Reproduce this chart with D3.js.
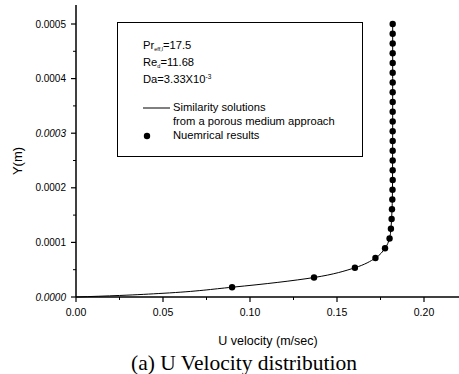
<!DOCTYPE html>
<html><head><meta charset="utf-8">
<script src="https://cdn.jsdelivr.net/npm/d3@7"></script>
<style>body{margin:0;background:#fff}svg{display:block}</style>
</head><body>
<svg id="c" width="459" height="374"></svg>
<script>
const yValues = [0.0000179,0.0000357,0.0000536,0.0000714,0.0000893,0.0001071,0.000125,0.0001429,0.0001607,0.0001786,0.0001964,0.0002143,0.0002321,0.00025,0.0002679,0.0002857,0.0003036,0.0003214,0.0003393,0.0003571,0.000375,0.0003929,0.0004107,0.0004286,0.0004464,0.0004643,0.0004821,0.0005];
const uNumerical = [0.0897,0.1368,0.1603,0.1721,0.1776,0.1802,0.1810,0.1814,0.1816,0.1818,0.1819,0.1820,0.1820,0.1820,0.1820,0.1820,0.1820,0.1820,0.1820,0.1820,0.1820,0.1820,0.1820,0.1820,0.1820,0.1820,0.1820,0.1820];
const curveY = [0,0.0000028,0.0000068,0.0000179,0.0000357,0.0000536,0.0000714,0.0000893,0.0001071,0.000125,0.0001429,0.0002,0.0003,0.0004,0.0005];
const curveU = [0,0.025,0.05,0.0897,0.1368,0.1603,0.1721,0.1776,0.1802,0.1810,0.1814,0.1819,0.1820,0.1820,0.1820];
const xTicks = [0,0.05,0.10,0.15,0.20];
const xTickLabels = ["0.00","0.05","0.10","0.15","0.20"];
const yTicks = [0,0.0001,0.0002,0.0003,0.0004,0.0005];
const yTickLabels = ["0.0000","0.0001","0.0002","0.0003","0.0004","0.0005"];

const svg = d3.select("#c");
const x = d3.scaleLinear().domain([0,0.22]).range([76,458.8]);
const y = d3.scaleLinear().domain([0,0.0005]).range([297,24]);
const font = "Liberation Sans, Arial, sans-serif";

// axes lines
svg.append("line").attr("x1",x(0)).attr("x2",459).attr("y1",y(0)).attr("y2",y(0)).attr("stroke","#000").attr("stroke-width",1.5);
svg.append("line").attr("x1",x(0)).attr("x2",x(0)).attr("y1",y(0)).attr("y2",5).attr("stroke","#000").attr("stroke-width",1.5);

// x ticks
const gx = svg.append("g");
gx.selectAll(".maj").data(xTicks).join("line").attr("x1",d=>x(d)).attr("x2",d=>x(d)).attr("y1",y(0)).attr("y2",y(0)+5).attr("stroke","#000").attr("stroke-width",1.2);
gx.selectAll(".min").data([0.025,0.075,0.125,0.175]).join("line").attr("class","min").attr("x1",d=>x(d)).attr("x2",d=>x(d)).attr("y1",y(0)).attr("y2",y(0)+3).attr("stroke","#000");
gx.selectAll("text").data(xTicks).join("text").attr("x",d=>x(d)).attr("y",y(0)+19).attr("text-anchor","middle").attr("font-family",font).attr("font-size",10.5).text((d,i)=>xTickLabels[i]);

// y ticks
const gy = svg.append("g");
gy.selectAll(".maj").data(yTicks).join("line").attr("x1",x(0)-5).attr("x2",x(0)).attr("y1",d=>y(d)).attr("y2",d=>y(d)).attr("stroke","#000").attr("stroke-width",1.2);
gy.selectAll(".min").data([0.00005,0.00015,0.00025,0.00035,0.00045]).join("line").attr("class","min").attr("x1",x(0)-3).attr("x2",x(0)).attr("y1",d=>y(d)).attr("y2",d=>y(d)).attr("stroke","#000");
gy.selectAll("text").data(yTicks).join("text").attr("x",x(0)-10).attr("y",d=>y(d)+3.5).attr("text-anchor","end").attr("font-family",font).attr("font-size",10)
  .attr("font-style",(d,i)=>(i===0||i===3)?"italic":"normal").text((d,i)=>yTickLabels[i]);

// axis titles
svg.append("text").attr("transform","translate(22,161) rotate(-90)").attr("text-anchor","middle").attr("font-family",font).attr("font-size",13).text("Y(m)");
svg.append("text").attr("x",268).attr("y",345).attr("text-anchor","middle").attr("font-family",font).attr("font-size",12.5).text("U velocity (m/sec)");
svg.append("text").attr("x",244).attr("y",370).attr("text-anchor","middle").attr("font-family","Liberation Serif, Times New Roman, serif").attr("font-size",21.5).text("(a) U Velocity distribution");

// curve
const line = d3.line().x(d=>x(d[0])).y(d=>y(d[1])).curve(d3.curveMonotoneY);
svg.append("path").datum(curveU.map((u,i)=>[u,curveY[i]])).attr("d",line).attr("fill","none").attr("stroke","#000").attr("stroke-width",1);

// points
svg.selectAll(".pt").data(uNumerical.map((u,i)=>[u,yValues[i]])).join("circle").attr("class","pt")
  .attr("cx",d=>x(d[0])).attr("cy",d=>y(d[1])).attr("r",3.2).attr("fill","#000");

// legend box
svg.append("rect").attr("x",117.5).attr("y",22.5).attr("width",245).attr("height",134).attr("fill","none").attr("stroke","#000").attr("stroke-width",1);
const lg = svg.append("g").attr("font-family",font).attr("font-size",11.2);
const t1 = lg.append("text").attr("x",143).attr("y",49);
t1.append("tspan").text("Pr");
t1.append("tspan").attr("font-size",5.5).attr("dy",2).text("eff,l");
t1.append("tspan").attr("dy",-2).text("=17.5");
const t2 = lg.append("text").attr("x",143).attr("y",66);
t2.append("tspan").text("Re");
t2.append("tspan").attr("font-size",5.5).attr("dy",2).text("d");
t2.append("tspan").attr("dy",-2).text("=11.68");
const t3 = lg.append("text").attr("x",143).attr("y",83);
t3.append("tspan").text("Da=3.33X10");
t3.append("tspan").attr("font-size",6.5).attr("dy",-4).text("-3");
lg.append("line").attr("x1",143).attr("x2",170).attr("y1",108).attr("y2",108).attr("stroke","#000");
lg.append("text").attr("x",173).attr("y",111).text("Similarity solutions");
lg.append("text").attr("x",173).attr("y",125).text("from a porous medium approach");
lg.append("circle").attr("cx",147).attr("cy",136).attr("r",3.2).attr("fill","#000");
lg.append("text").attr("x",173).attr("y",139).text("Nuemrical results");
</script>
</body></html>
